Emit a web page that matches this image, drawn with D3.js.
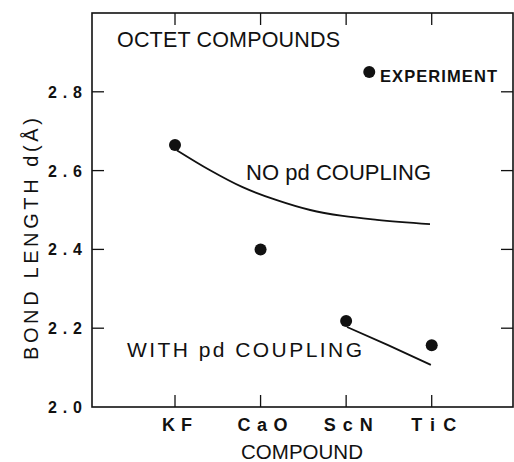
<!DOCTYPE html>
<meta charset="utf-8">
<head><title>Octet compounds bond length</title>
<style>
body { margin: 0; background: #fff; }
svg text { font-family: "Liberation Sans", Arial, sans-serif; fill: #111; }
.frame { fill: none; stroke: #111; stroke-width: 1.6px; }
.tick { stroke: #111; stroke-width: 1.3px; }
.curve { fill: none; stroke: #111; stroke-width: 1.8px; }
</style>
</head>
<body>
<svg width="514" height="462"></svg>
<script src="https://cdn.jsdelivr.net/npm/d3@7"></script>
<script>

// data
var compounds = ["KF", "CaO", "ScN", "TiC"];
var compoundWidths = [30, 50, 49, 45];
var yTicks = [2.0, 2.2, 2.4, 2.6, 2.8];

// experimental bond lengths (filled dots)
var experiment = [2.665, 2.40, 2.218, 2.157];

// calculated curves, x = compound index (KF = 1)
var noCouplingX = [1.02, 1.41, 1.79, 2.19, 2.58, 2.96, 3.36, 3.98];
var noCouplingY = [2.652, 2.601, 2.558, 2.525, 2.500, 2.485, 2.475, 2.464];
var withCouplingX = [3.01, 3.49, 3.99];
var withCouplingY = [2.203, 2.157, 2.107];

// legend marker
var legendPoint = [3.27, 2.85];

var svg = d3.select("svg");

var x = d3.scaleLinear().domain([0.03, 4.95]).range([92, 513]);
var y = d3.scaleLinear().domain([2.0, 3.0]).range([407, 13]);

var g = svg.append("g");

// frame
g.append("rect")
    .attr("class", "frame")
    .attr("x", x.range()[0])
    .attr("y", y.range()[1])
    .attr("width", x.range()[1] - x.range()[0])
    .attr("height", y.range()[0] - y.range()[1]);

// ticks (inward on all four sides)
var tickLen = 12;
compounds.forEach(function(c, i) {
  var px = x(i + 1);
  g.append("line").attr("class", "tick")
      .attr("x1", px).attr("x2", px)
      .attr("y1", y(2.0)).attr("y2", y(2.0) - tickLen);
  g.append("line").attr("class", "tick")
      .attr("x1", px).attr("x2", px)
      .attr("y1", y(3.0)).attr("y2", y(3.0) + tickLen);
  g.append("text")
      .attr("x", px + 2)
      .attr("y", 431)
      .attr("text-anchor", "middle")
      .attr("textLength", compoundWidths[i])
      .attr("lengthAdjust", "spacing")
      .style("font-size", "18px")
      .style("font-weight", "bold")
      .text(c);
});

yTicks.forEach(function(v) {
  var py = y(v);
  if (v > 2.0) {
    g.append("line").attr("class", "tick")
        .attr("x1", x.range()[0]).attr("x2", x.range()[0] + tickLen)
        .attr("y1", py).attr("y2", py);
    g.append("line").attr("class", "tick")
        .attr("x1", x.range()[1]).attr("x2", x.range()[1] - tickLen)
        .attr("y1", py).attr("y2", py);
  }
  g.append("text")
      .attr("x", 48)
      .attr("y", py + 6)
      .attr("textLength", 34)
      .attr("lengthAdjust", "spacing")
      .style("font-size", "16px")
      .style("font-weight", "bold")
      .text(d3.format(".1f")(v));
});

// curves
var line = d3.line()
    .x(function(d) { return x(d[0]); })
    .y(function(d) { return y(d[1]); })
    .curve(d3.curveMonotoneX);

g.append("path").attr("class", "curve")
    .attr("d", line(d3.zip(noCouplingX, noCouplingY)));
g.append("path").attr("class", "curve")
    .attr("d", line(d3.zip(withCouplingX, withCouplingY)));

// experimental dots
g.selectAll("circle.exp")
    .data(experiment)
    .enter().append("circle")
    .attr("class", "exp")
    .attr("cx", function(d, i) { return x(i + 1); })
    .attr("cy", function(d) { return y(d); })
    .attr("r", 6)
    .attr("fill", "#111");

g.append("circle")
    .attr("cx", x(legendPoint[0]))
    .attr("cy", y(legendPoint[1]))
    .attr("r", 6)
    .attr("fill", "#111");

// annotations
function label(txt, px, py, size, len, weight) {
  g.append("text")
      .attr("x", px).attr("y", py)
      .attr("textLength", len)
      .attr("lengthAdjust", "spacing")
      .style("font-size", size + "px")
      .style("font-weight", weight || "normal")
      .text(txt);
}
label("OCTET COMPOUNDS", 117, 47, 21.5, 223);
label("EXPERIMENT", 380, 82, 16.5, 117, "bold");
label("NO pd COUPLING", 246, 180, 22, 185);
label("WITH pd COUPLING", 127, 357, 21, 235);

// axis titles
svg.append("text")
    .attr("x", 302).attr("y", 459)
    .attr("text-anchor", "middle")
    .attr("textLength", 122)
    .attr("lengthAdjust", "spacing")
    .style("font-size", "20.5px")
    .text("COMPOUND");

svg.append("text")
    .attr("transform", "translate(38,239) rotate(-90)")
    .attr("text-anchor", "middle")
    .attr("textLength", 242)
    .attr("lengthAdjust", "spacing")
    .style("font-size", "20px")
    .text("BOND LENGTH d(Å)");

</script>
</body>
